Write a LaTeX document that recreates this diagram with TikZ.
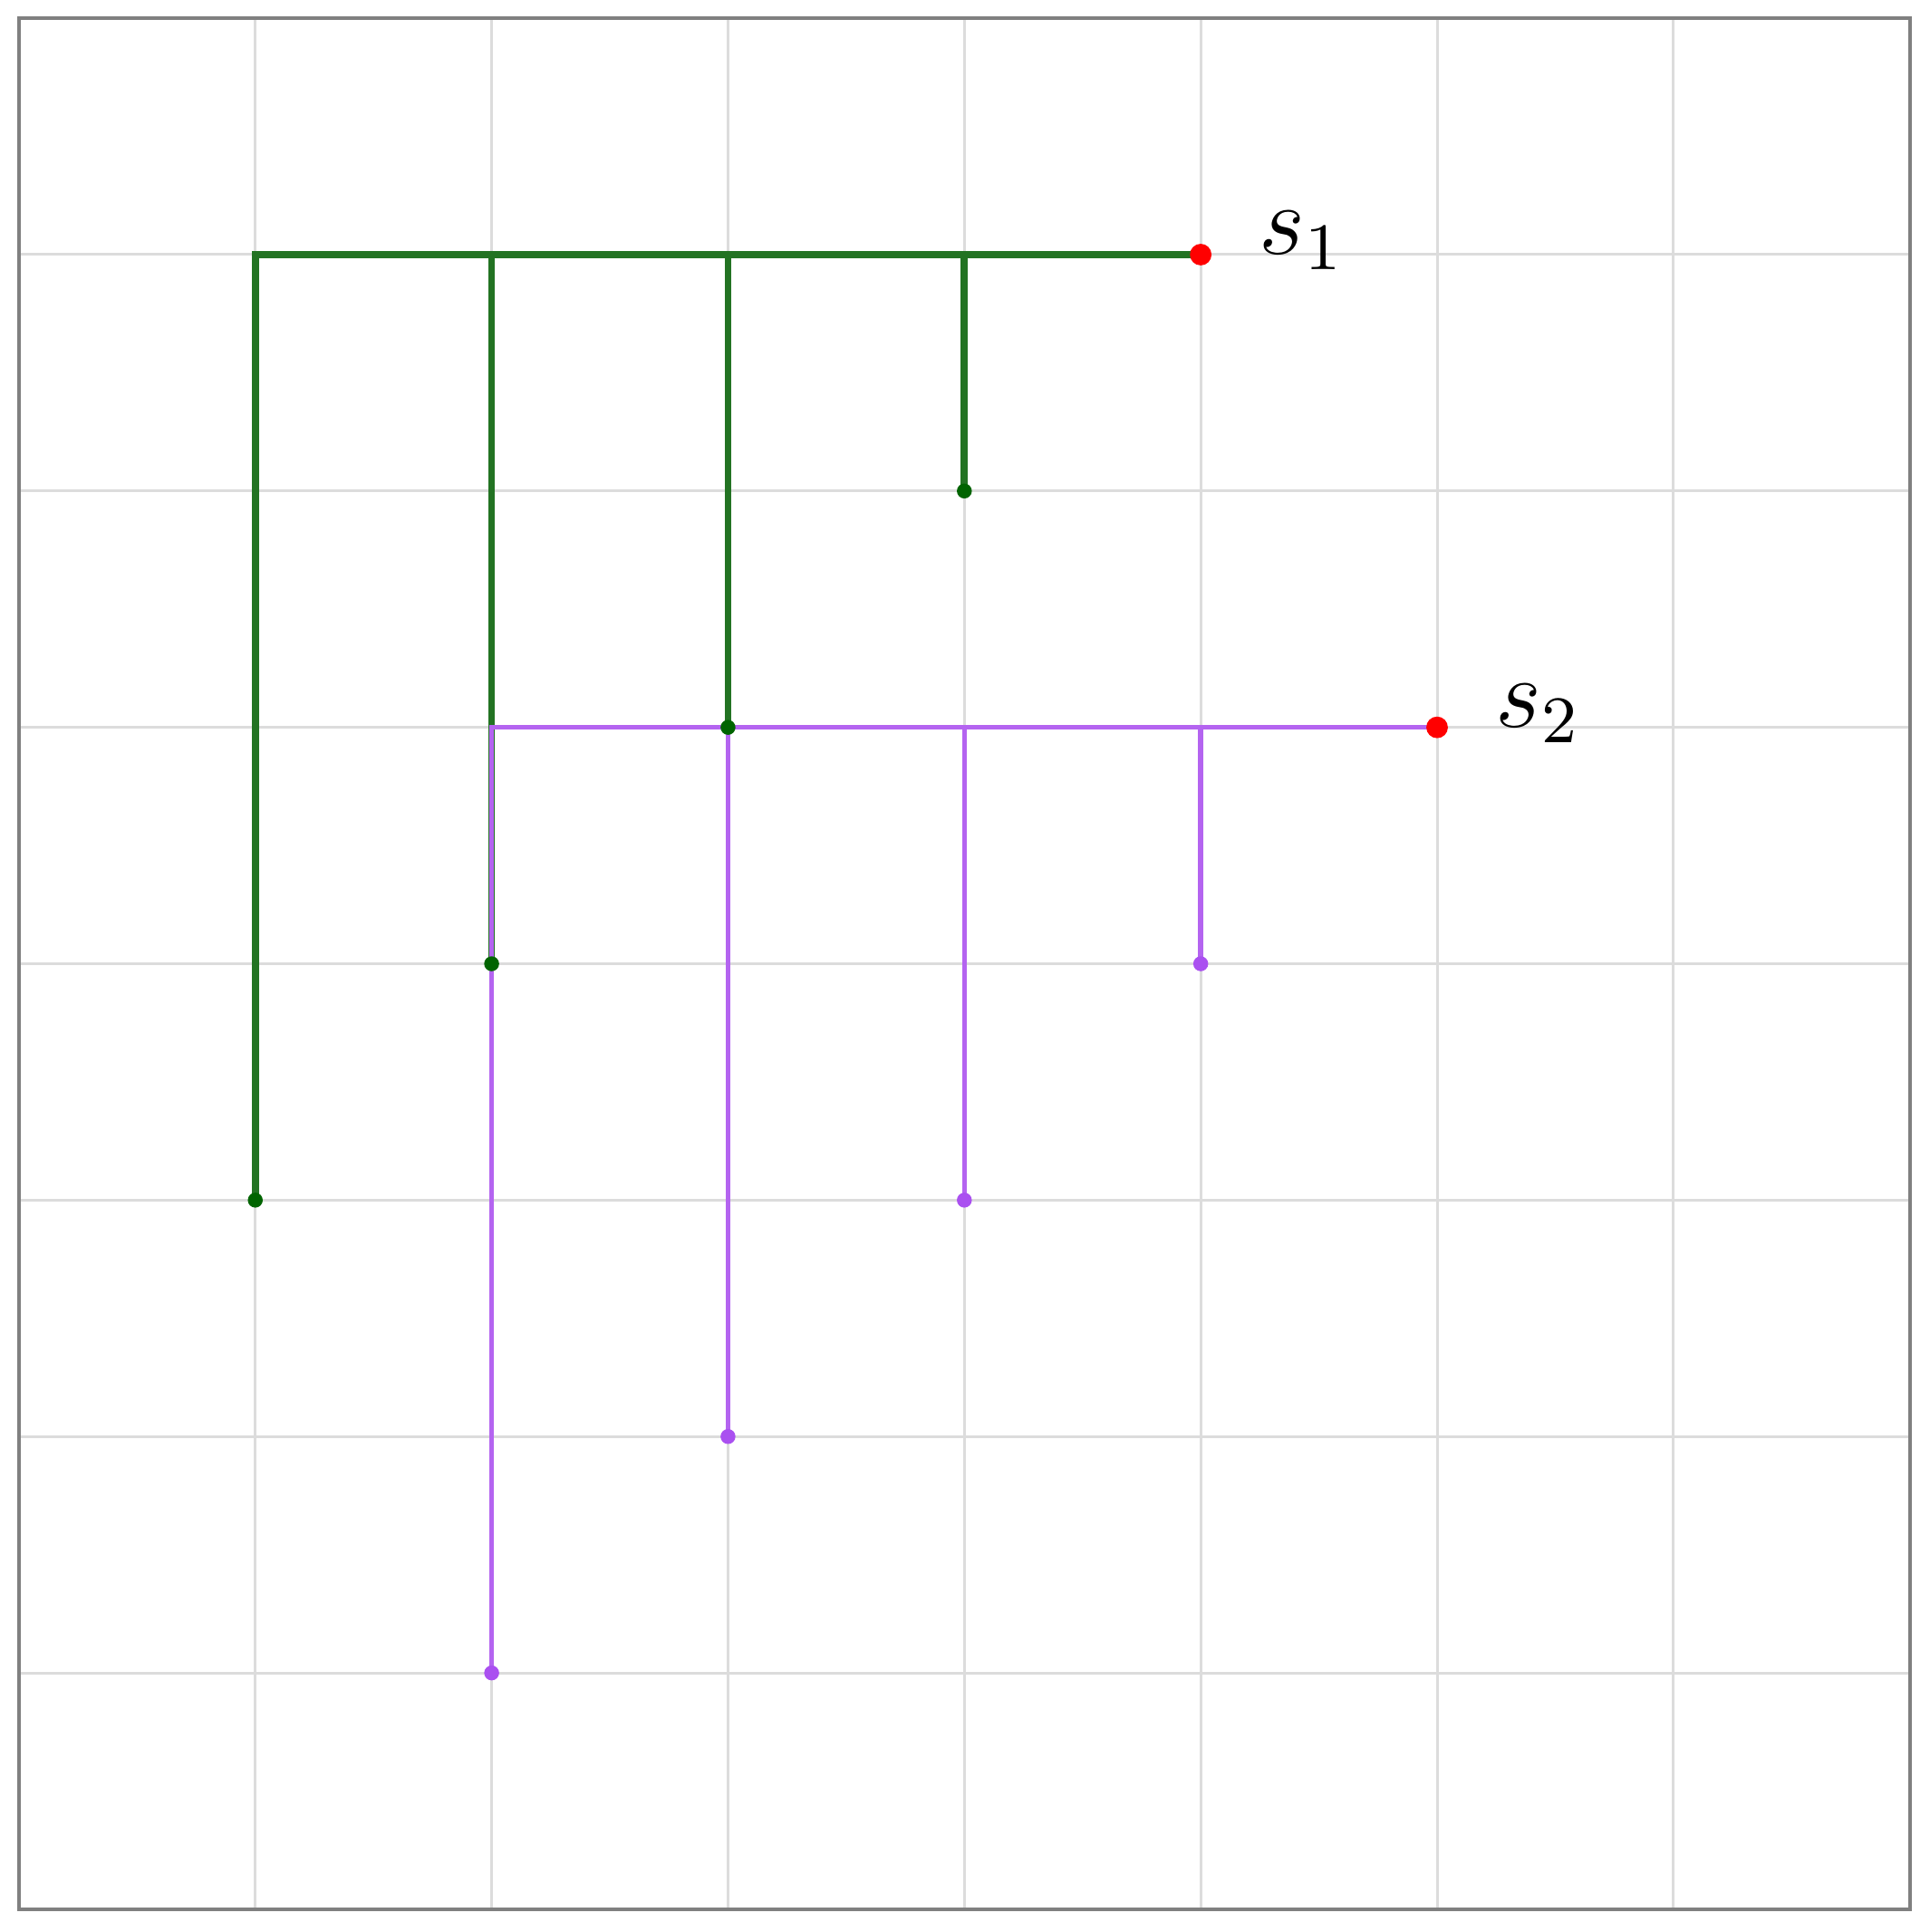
\documentclass[tikz,border=0pt]{standalone}
\definecolor{treegreen}{RGB}{35,115,35}
\definecolor{dotgreen}{RGB}{0,100,0}
\definecolor{treepurple}{RGB}{180,100,240}
\definecolor{dotpurple}{RGB}{170,80,240}
\definecolor{gridgray}{RGB}{220,220,220}
\definecolor{framegray}{RGB}{128,128,128}
\tikzset{
  gridline/.style={draw=gridgray, line width=0.33pt},
  frameline/.style={draw=framegray, line width=0.45pt},
  gtree/.style={draw=treegreen, line width=0.85pt},
  ptree/.style={draw=treepurple, line width=0.6pt},
  gdot/.style={fill=dotgreen},
  pdot/.style={fill=dotpurple},
  rdot/.style={fill=red},
  lab/.style={anchor=base west, inner sep=0pt, font=\fontsize{11.8}{14}\selectfont}
}
\begin{document}
\begin{tikzpicture}
\useasboundingbox (-0.080,-0.096) rectangle (8.084,8.077);
\draw[gridline] (0,0) grid (8,8);
\draw[frameline] (0,0) rectangle (8,8);
% coordinates
\coordinate (s1) at (5,7);
\coordinate (s2) at (6,5);
\coordinate (g1t) at (1,7); \coordinate (g1b) at (1,3);
\coordinate (g2t) at (2,7); \coordinate (g2b) at (2,4);
\coordinate (g3t) at (3,7); \coordinate (g3b) at (3,5);
\coordinate (g4t) at (4,7); \coordinate (g4b) at (4,6);
\coordinate (p1t) at (2,5); \coordinate (p1b) at (2,1);
\coordinate (p2t) at (3,5); \coordinate (p2b) at (3,2);
\coordinate (p3t) at (4,5); \coordinate (p3b) at (4,3);
\coordinate (p4t) at (5,5); \coordinate (p4b) at (5,4);
% green tree
\draw[gtree] (g1b) -- (g1t) -- (s1);
\draw[gtree] (g2t) -- (g2b);
\draw[gtree] (g3t) -- (g3b);
\draw[gtree] (g4t) -- (g4b);
% purple tree
\draw[ptree] (p1b) -- (p1t) -- (s2);
\draw[ptree] (p2t) -- (p2b);
\draw[ptree] (p3t) -- (p3b);
\draw[ptree] (p4t) -- (p4b);
% dots
\foreach \c in {g1b,g2b,g3b,g4b} \fill[gdot] (\c) circle (0.9pt);
\foreach \c in {p1b,p2b,p3b,p4b} \fill[pdot] (\c) circle (0.9pt);
\fill[rdot] (s1) circle (1.3pt);
\fill[rdot] (s2) circle (1.3pt);
% labels
\node[lab] (l1) at (5.24,7) {$s_1$};
\node[lab] (l2) at (6.24,5) {$s_2$};
\end{tikzpicture}
\end{document}
